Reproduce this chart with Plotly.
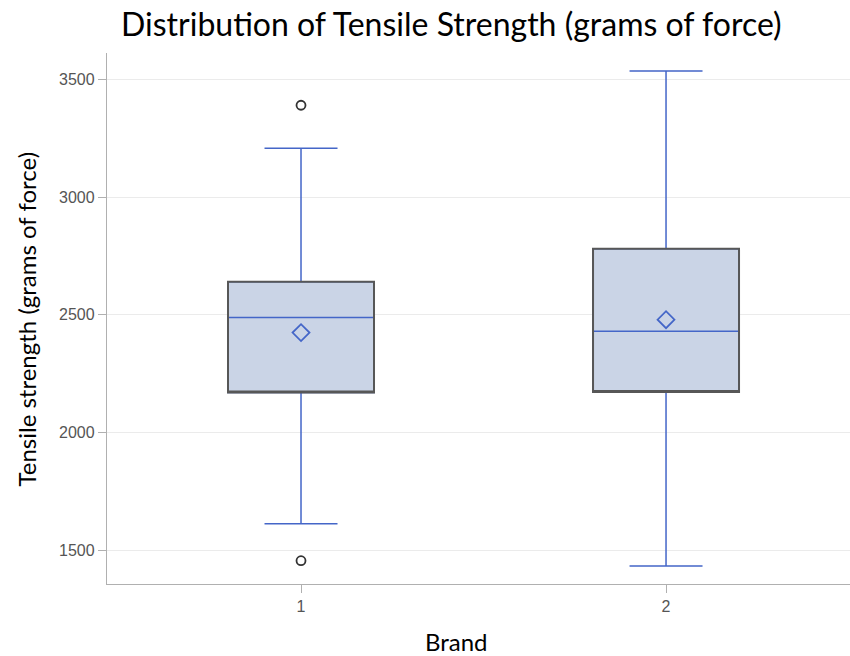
import plotly.graph_objects as go

brands = [1, 2]
brand_labels = ["1", "2"]
q1 = [2170, 2172]
median = [2488, 2430]
q3 = [2640, 2780]
lower_whisker = [1612, 1432]
upper_whisker = [3207, 3535]
means = [2424, 2479]
outlier_brand = [1, 1]
outlier_values = [3390, 1455]
y_ticks = [1500, 2000, 2500, 3000, 3500]

blue = "#4466C8"
fill = "#CAD4E6"
gray_edge = "#575757"

fig = go.Figure()

# whiskers, fill and median (blue)
fig.add_trace(go.Box(
    x=brands, q1=q1, median=median, q3=q3,
    lowerfence=lower_whisker, upperfence=upper_whisker,
    width=0.4, whiskerwidth=0.5,
    fillcolor=fill, line=dict(color=blue, width=1.5),
    boxpoints=False, showlegend=False, hoverinfo="skip",
))
# dark box outline on top
fig.add_trace(go.Box(
    x=brands, q1=q1, median=q1, q3=q3,
    lowerfence=q1, upperfence=q3,
    width=0.4, whiskerwidth=0.0,
    fillcolor="rgba(0,0,0,0)", line=dict(color=gray_edge, width=2),
    boxpoints=False, showlegend=False, hoverinfo="skip",
))
# means
fig.add_trace(go.Scatter(
    x=brands, y=means, mode="markers",
    marker=dict(symbol="diamond-open", size=13, color=blue, line=dict(width=1.8, color=blue)),
    showlegend=False,
))
# outliers
fig.add_trace(go.Scatter(
    x=outlier_brand, y=outlier_values, mode="markers",
    marker=dict(symbol="circle-open", size=9, color="#333333", line=dict(width=1.8, color="#333333")),
    showlegend=False,
))

title_font = dict(family="Lato", size=32, color="black")
label_font = dict(family="Lato", size=24, color="black")
tick_font = dict(family="Liberation Sans", size=16, color="#555555")

fig.update_layout(
    width=850, height=656,
    margin=dict(l=107, r=0, t=53, b=72, autoexpand=False),
    paper_bgcolor="white", plot_bgcolor="white",
    boxmode="overlay",
    title=dict(text="Distribution of Tensile Strength (grams of force)",
               x=0.531, xanchor="center", xref="container",
               y=0.962, yanchor="middle", yref="container",
               font=title_font),
    xaxis=dict(
        range=[0.4685, 2.504], tickmode="array", tickvals=brands, ticktext=brand_labels,
        showgrid=False, zeroline=False,
        showline=True, linecolor="#B0B0B0", linewidth=1.3,
        ticks="outside", ticklen=8, tickcolor="#B0B0B0",
        tickfont=tick_font,
    ),
    yaxis=dict(
        range=[1356, 3612], tickvals=y_ticks,
        showgrid=True, gridcolor="#EBEBEB", gridwidth=1.3, zeroline=False,
        showline=True, linecolor="#B0B0B0", linewidth=1.3,
        ticks="outside", ticklen=8, tickcolor="#B0B0B0",
        tickfont=tick_font,
    ),
    annotations=[
        dict(text="Brand", xref="paper", yref="paper", x=0.47, y=-0.109,
             xanchor="center", yanchor="middle", showarrow=False, font=label_font),
        dict(text="Tensile strength (grams of force)", xref="paper", yref="paper",
             x=-0.1077, y=0.5, xanchor="center", yanchor="middle", textangle=-90,
             showarrow=False, font=label_font),
    ],
)

fig.write_html("out.html", config={"displayModeBar": False},
               post_script="document.body.style.margin='0';document.body.style.padding='0';"
                           "document.body.style.overflow='hidden';"
                           "document.documentElement.style.overflow='hidden';")
